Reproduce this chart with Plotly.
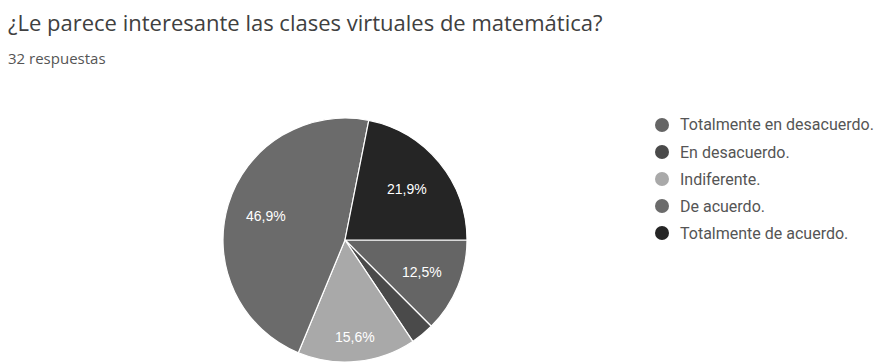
import math
import plotly.graph_objects as go

# Survey answers, listed in legend order
categories = [
    "Totalmente en desacuerdo.",
    "En desacuerdo.",
    "Indiferente.",
    "De acuerdo.",
    "Totalmente de acuerdo.",
]
counts = [4, 1, 5, 15, 7]
colors = ["#656565", "#4a4a4a", "#a9a9a9", "#6b6b6b", "#252525"]

title_text = "¿Le parece interesante las clases virtuales de matemática?"
subtitle_text = "32 respuestas"

total = sum(counts)


def pct_label(v):
    p = 100.0 * v / total
    if p < 5:
        return ""
    return f"{p:.1f}".replace(".", ",") + "%"


W, H = 878, 362
# pie geometry in pixels (y measured from the top)
cx, cy, r = 345, 240, 122
start_deg = 90  # first slice starts at 3 o'clock, going clockwise
# radial position of each slice label, as a fraction of the radius
label_radius = [0.68, 0.68, 0.80, 0.68, 0.66]


def px(x):
    return x / W


def py(y):
    return 1 - y / H


fig = go.Figure()
fig.add_trace(go.Pie(
    labels=categories,
    values=counts,
    textinfo="none",
    marker=dict(colors=colors, line=dict(color="#ffffff", width=1.2)),
    sort=False,
    direction="clockwise",
    rotation=start_deg,
    showlegend=False,
    hoverinfo="label+percent",
    domain=dict(x=[px(cx - r), px(cx + r)], y=[max(0.0, py(cy + r)), min(1.0, py(cy - r))]),
))

annotations = []

# percentage labels placed inside each slice, along its bisector
cum = 0
for v, k in zip(counts, label_radius):
    mid = math.radians(start_deg + 360.0 * (cum + v / 2.0) / total)
    cum += v
    txt = pct_label(v)
    if not txt:
        continue
    lx = cx + k * r * math.sin(mid)
    ly = cy - k * r * math.cos(mid)
    annotations.append(dict(
        text=txt, x=px(lx), y=py(ly), xref="paper", yref="paper",
        xanchor="center", yanchor="middle", showarrow=False,
        font=dict(family="Liberation Sans", size=14, color="#ffffff"),
    ))

# legend: circle swatch + label per category
shapes = []
leg_x, leg_y0, leg_dy, dot = 662, 125, 27, 14
for i, (name, col) in enumerate(zip(categories, colors)):
    yc = leg_y0 + i * leg_dy
    shapes.append(dict(
        type="circle", xref="paper", yref="paper",
        x0=px(leg_x - dot / 2), x1=px(leg_x + dot / 2),
        y0=py(yc + dot / 2), y1=py(yc - dot / 2),
        fillcolor=col, line=dict(width=0),
    ))
    annotations.append(dict(
        text=name, x=px(leg_x + 16), y=py(yc), xref="paper", yref="paper",
        xanchor="left", yanchor="middle", showarrow=False,
        font=dict(family="Roboto", size=16, color="#555555"),
    ))

annotations.append(dict(
    text=title_text, x=px(6), y=py(5), xref="paper", yref="paper",
    xanchor="left", yanchor="top", showarrow=False,
    font=dict(family="Open Sans", size=22, color="#404040"),
))
annotations.append(dict(
    text=subtitle_text, x=px(6), y=py(46), xref="paper", yref="paper",
    xanchor="left", yanchor="top", showarrow=False,
    font=dict(family="Open Sans", size=15, color="#555555"),
))

fig.update_layout(
    width=W, height=H,
    margin=dict(l=0, r=0, t=0, b=0),
    paper_bgcolor="#ffffff",
    plot_bgcolor="#ffffff",
    showlegend=False,
    annotations=annotations,
    shapes=shapes,
)

fig.write_html("out.html")
